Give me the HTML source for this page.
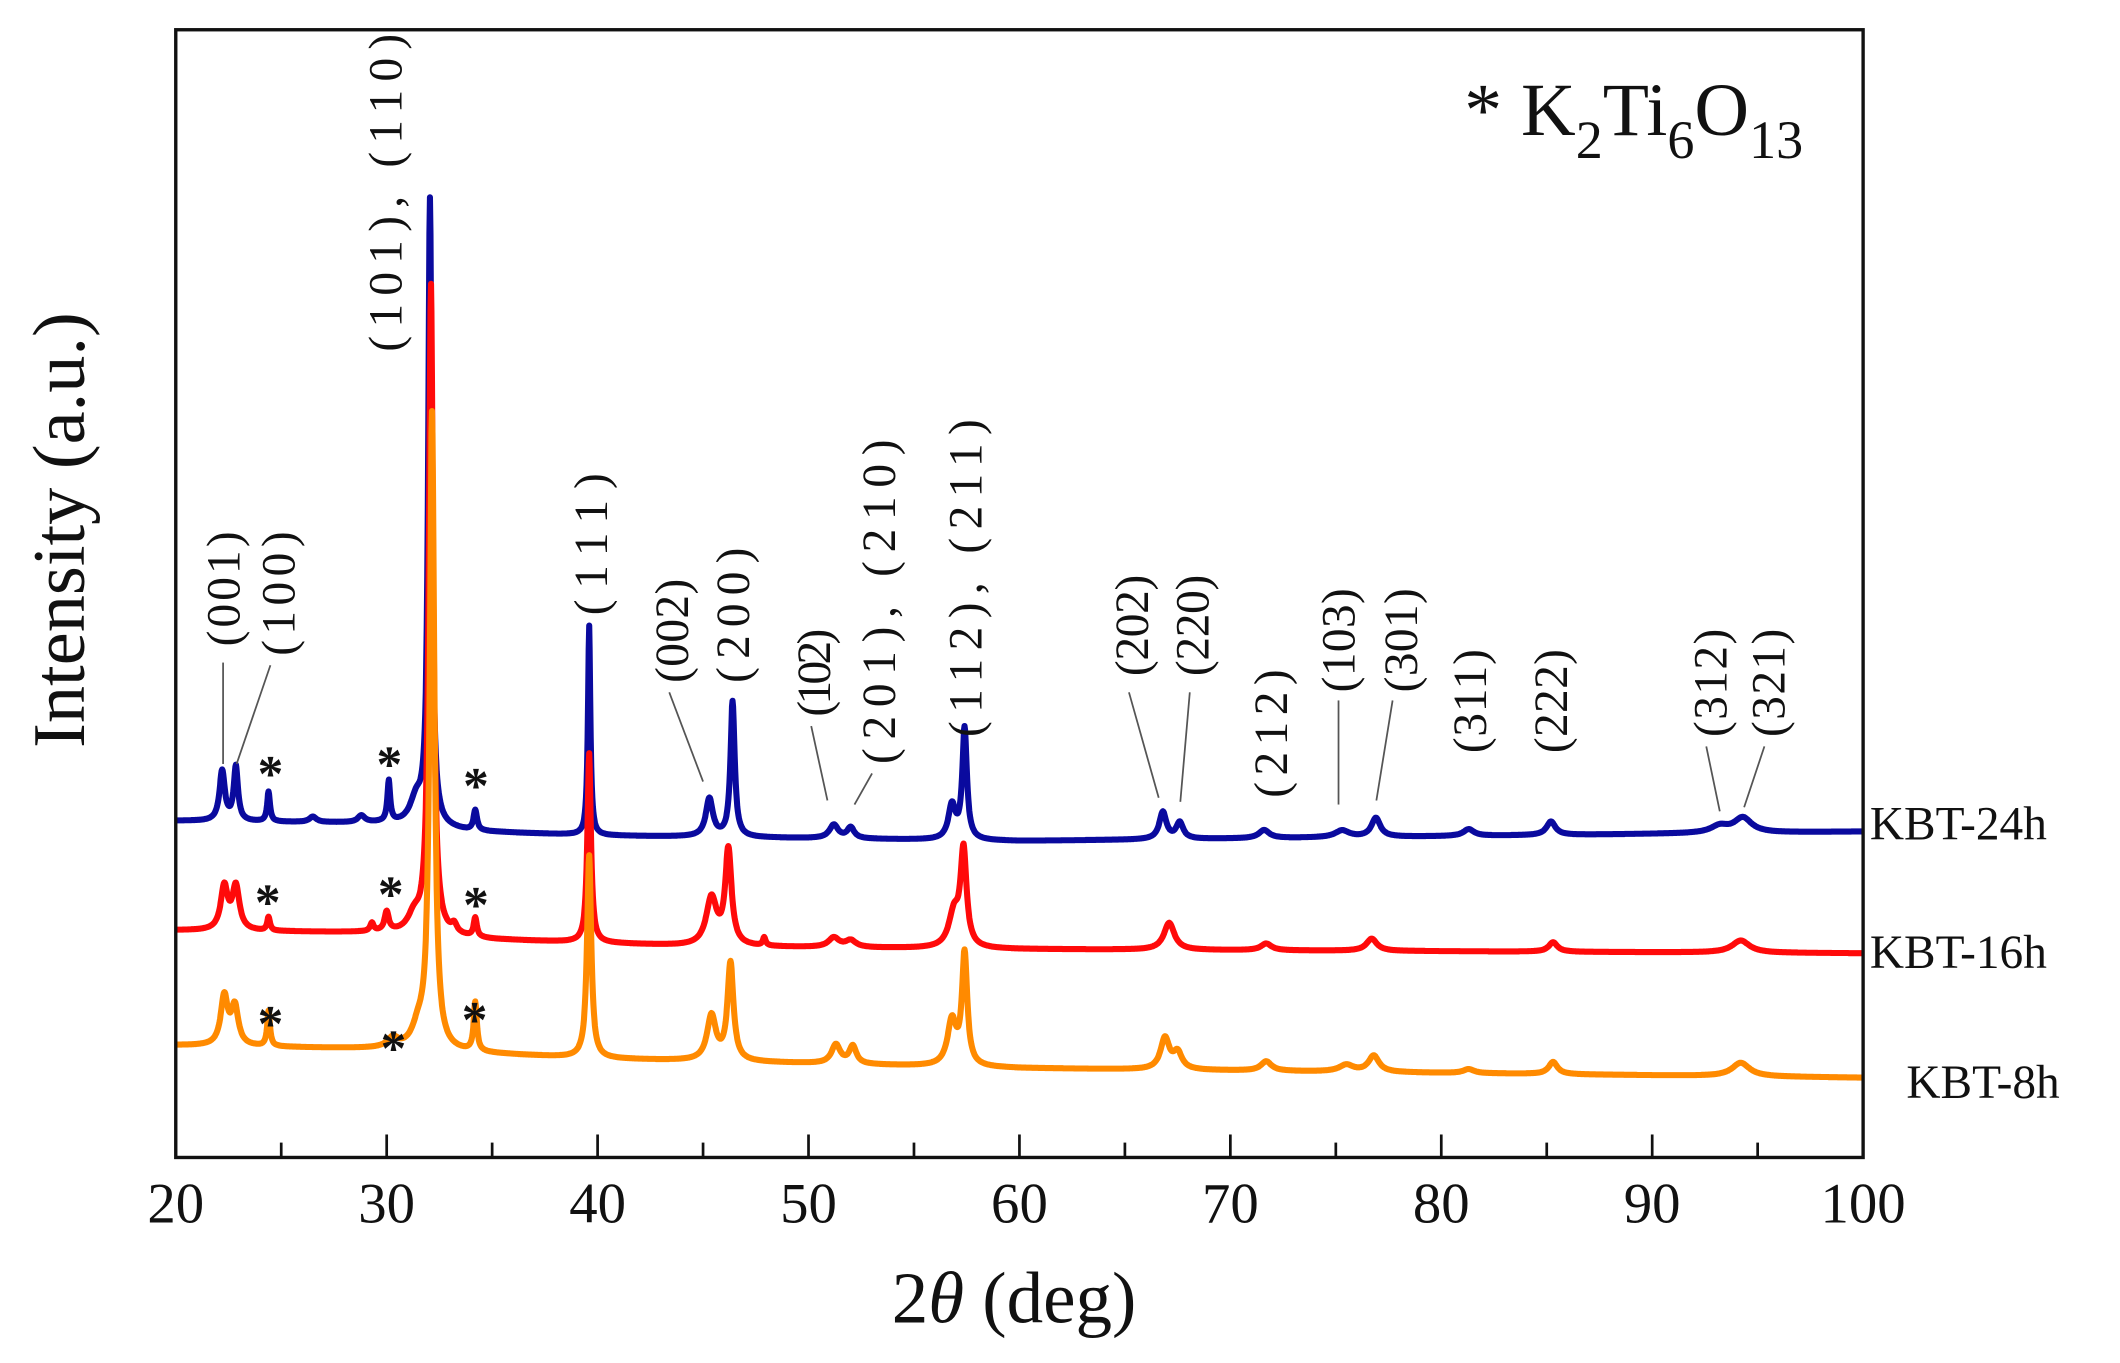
<!DOCTYPE html>
<html><head><meta charset="utf-8"><style>
html,body{margin:0;padding:0;background:#fff;}
svg{display:block;}
text{font-family:"Liberation Serif",serif;fill:#111;}
</style></head><body>
<svg id="s" width="2120" height="1363" viewBox="0 0 1568 1008" preserveAspectRatio="none" xmlns="http://www.w3.org/2000/svg">
<g id="curves"></g>
<rect x="130" y="22" width="1248" height="834" fill="none" stroke="#111" stroke-width="2.5"/>
<g id="ticks" stroke="#111" stroke-width="2"></g>
<g font-size="42">
<text x="130" y="904" text-anchor="middle">20</text>
<text x="286" y="904" text-anchor="middle">30</text>
<text x="442" y="904" text-anchor="middle">40</text>
<text x="598" y="904" text-anchor="middle">50</text>
<text x="754" y="904" text-anchor="middle">60</text>
<text x="910" y="904" text-anchor="middle">70</text>
<text x="1066" y="904" text-anchor="middle">80</text>
<text x="1222" y="904" text-anchor="middle">90</text>
<text x="1378" y="904" text-anchor="middle">100</text>
</g>
<text x="750" y="978" text-anchor="middle" font-size="54">2<tspan font-style="italic">θ</tspan> (deg)</text>
<text transform="translate(62,392) rotate(-90)" text-anchor="middle" font-size="55">Intensity (a.u.)</text>
<text x="1083" y="100" font-size="56">* K<tspan font-size="40" dy="17">2</tspan><tspan dy="-17">Ti</tspan><tspan font-size="40" dy="17">6</tspan><tspan dy="-17">O</tspan><tspan font-size="40" dy="17">13</tspan></text>
<g font-size="35">
<text x="1383" y="621">KBT-24h</text>
<text x="1383" y="716">KBT-16h</text>
<text x="1410" y="812">KBT-8h</text>
</g>
<g id="labels" font-size="35"></g>
<g stroke="#555" stroke-width="1.3">
<line x1="165" y1="490" x2="165" y2="565"/>
<line x1="200" y1="492" x2="175" y2="565"/>
<line x1="495" y1="512" x2="520" y2="578"/>
<line x1="600" y1="537" x2="612" y2="592"/>
<line x1="645" y1="572" x2="632" y2="595"/>
<line x1="835" y1="512" x2="857" y2="590"/>
<line x1="880" y1="512" x2="873" y2="593"/>
<line x1="990" y1="518" x2="990" y2="595"/>
<line x1="1030" y1="518" x2="1018" y2="592"/>
<line x1="1262" y1="552" x2="1272" y2="600"/>
<line x1="1305" y1="552" x2="1290" y2="597"/>
</g>
<g font-size="38" text-anchor="middle" font-weight="bold">
<text x="200" y="585">*</text><text x="288" y="578">*</text><text x="352" y="594">*</text>
<text x="198" y="680">*</text><text x="289" y="674">*</text><text x="352" y="682">*</text>
<text x="200" y="770">*</text><text x="291" y="788">*</text><text x="351" y="767">*</text>
</g>
</svg>
<script>
var NS="http://www.w3.org/2000/svg";
function X(d){return 130+(d-20)*15.6;}
var t=document.getElementById('ticks');
for(var d=25;d<100;d+=5){var l=document.createElementNS(NS,'line');var h=(d%10==0)?17:11;
l.setAttribute('x1',X(d));l.setAttribute('x2',X(d));l.setAttribute('y1',856);l.setAttribute('y2',856-h);t.appendChild(l);}
function base(b,d){
 for(var i=0;i<b.length-1;i++){if(d>=b[i][0]&&d<=b[i+1][0]){var f=(d-b[i][0])/(b[i+1][0]-b[i][0]);return b[i][1]+f*(b[i+1][1]-b[i][1]);}}
 return b[b.length-1][1];}
function series(b,peaks,color){
 var pts=[];
 for(var d=20;d<=100.001;d+=0.025){
  var y=base(b,d);
  for(var k=0;k<peaks.length;k++){var p=peaks[k];var g=p[2];var u=(d-p[0])/g;y-=p[1]/(1+u*u);}
  pts.push(X(d).toFixed(1)+","+y.toFixed(1));}
 var pl=document.createElementNS(NS,'polyline');pl.setAttribute('points',pts.join(' '));
 pl.setAttribute('fill','none');pl.setAttribute('stroke',color);pl.setAttribute('stroke-width','4.5');pl.setAttribute('stroke-linejoin','round');
 document.getElementById('curves').appendChild(pl);}
series([[20,607],[30,609],[34,615],[40,618],[50,620],[60,622],[100,615]],
[[22.2,37,0.15],[22.85,40,0.12],[24.4,22,0.08],[26.5,4,0.2],[28.8,5,0.2],[30.1,30,0.08],[31.4,18,0.35],[32.05,462,0.1],[34.2,15,0.1],[39.6,155,0.07],[45.3,28,0.2],[46.4,100,0.12],[51.2,10,0.25],[52.0,8,0.2],[56.8,25,0.2],[57.4,82,0.13],[66.8,20,0.2],[67.6,12,0.2],[71.6,6,0.3],[75.3,5,0.4],[76.9,14,0.25],[81.3,5,0.3],[85.2,10,0.25],[93.2,5,0.5],[94.3,11,0.5]],'#0a0a9e');
series([[20,688],[30,690],[35,695],[45,700],[60,702],[100,705]],
[[22.3,32,0.2],[22.85,32,0.2],[24.4,10,0.08],[29.3,6,0.1],[30.0,14,0.12],[31.3,12,0.35],[32.1,480,0.12],[33.2,6,0.15],[34.2,14,0.09],[39.6,140,0.1],[45.4,35,0.3],[46.2,70,0.18],[47.9,6,0.08],[51.2,7,0.3],[52,5,0.3],[56.9,25,0.3],[57.35,70,0.17],[67.1,20,0.3],[71.7,5,0.3],[76.7,9,0.3],[85.3,7,0.25],[94.2,9,0.5]],'#ff0a0a');
series([[20,773],[30,776],[40,783],[60,790],[100,797]],
[[22.3,36,0.2],[22.8,28,0.2],[24.4,26,0.08],[30.3,7,0.3],[31.5,14,0.35],[32.15,470,0.13],[34.2,36,0.09],[39.6,150,0.12],[45.4,33,0.25],[46.3,72,0.17],[51.3,14,0.25],[52.1,13,0.2],[56.8,33,0.25],[57.4,82,0.15],[66.9,23,0.25],[67.5,12,0.25],[71.7,7,0.3],[75.5,5,0.4],[76.8,12,0.3],[81.3,3,0.3],[85.3,9,0.25],[94.2,10,0.5]],'#ff8a00');
var L=[["(001)",165,478,85],["(100)",206,485,92],["(101), (110)",285,260,235],["(111)",437,455,105],["(002)",497,505,77],["(200)",542,505,100],["(102)",602,530,65],["(201), (210)",650,565,240],["(112), (211)",714,545,235],["(202)",837,500,75],["(220)",882,500,75],["(212)",940,590,95],["(103)",990,512,77],["(301)",1036,512,77],["(311)",1087,557,77],["(222)",1147,557,77],["(312)",1265,545,80],["(321)",1308,545,80]];
var lg=document.getElementById('labels');
L.forEach(function(a){var tx=document.createElementNS(NS,'text');tx.textContent=a[0];
 tx.setAttribute('transform','translate('+(a[1]+12)+','+a[2]+') rotate(-90)');
 tx.setAttribute('textLength',a[3]);tx.setAttribute('lengthAdjust','spacing');lg.appendChild(tx);});
</script>
</body></html>
